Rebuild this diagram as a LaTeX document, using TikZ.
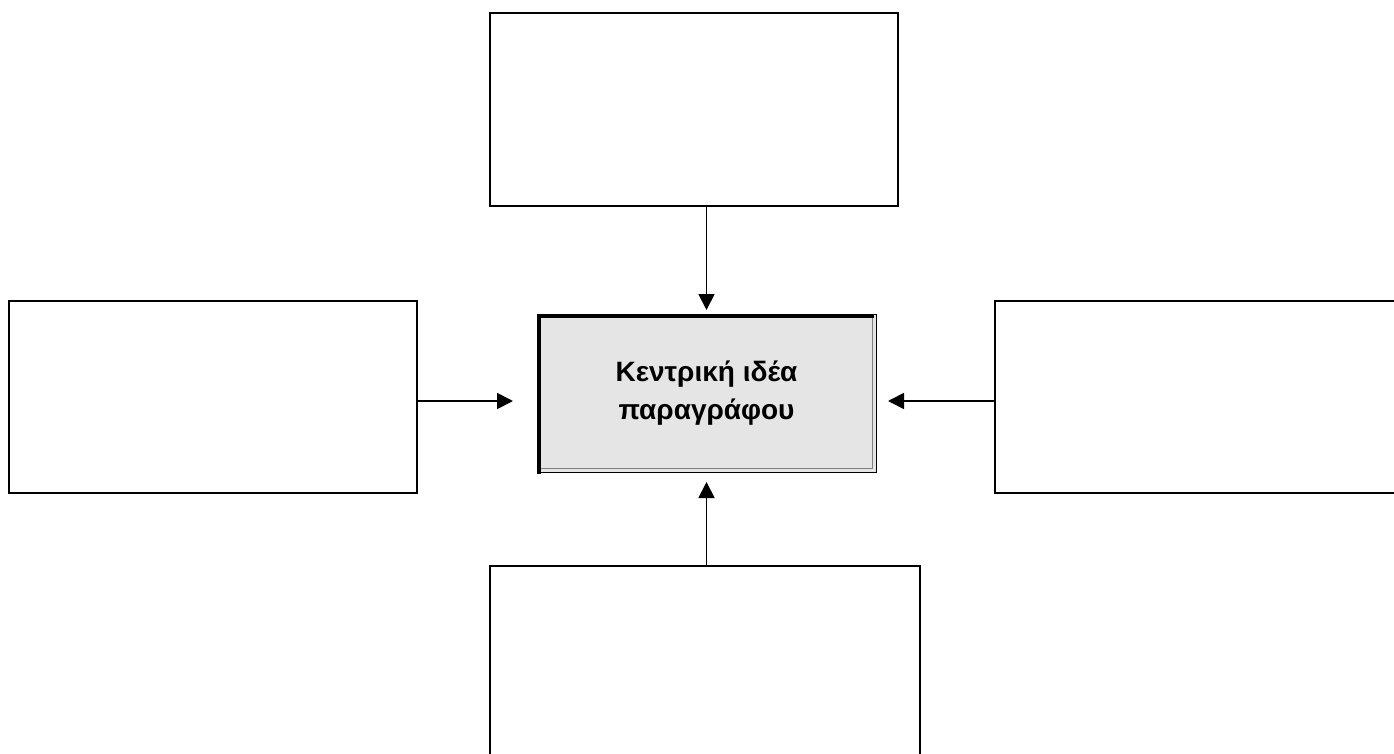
\documentclass[tikz,border=0pt]{standalone}
\usepackage{fontspec}
\setmainfont{Liberation Sans}
\usetikzlibrary{arrows.meta}
\tikzset{
  emptybox/.style={draw,line width=2.2pt,inner sep=0pt,outer sep=0pt,fill=white},
  ideabox/.style={draw,line width=0.9pt,fill=black!10,inner sep=0pt,outer sep=0pt,
    minimum width=339pt,minimum height=158pt,align=center,
    font=\fontsize{28}{38}\selectfont\bfseries},
  arr/.style={-{Triangle[length=16pt,width=16pt]},line width=1.8pt}
}
\begin{document}
\begin{tikzpicture}[x=1pt,y=-1pt]
  \clip (0,0) rectangle (1394,754);
  \fill[color=white] (0,0) rectangle (1394,754);
  % four empty boxes
  \node[emptybox,minimum width=408pt,minimum height=193pt,anchor=north west]
    (top) at (490,13) {};
  \node[emptybox,minimum width=408pt,minimum height=192pt,anchor=north west]
    (left) at (9,301) {};
  \node[emptybox,minimum width=420pt,minimum height=192pt,anchor=north west]
    (right) at (995,301) {};
  \node[emptybox,minimum width=430pt,minimum height=200pt,anchor=north west]
    (bottom) at (490,566) {};
  % central box
  \node[ideabox,anchor=north west] (idea) at (537,314)
    {Κεντρική ιδέα\\παραγράφου};
  \draw[line width=3.5pt] ([shift={(2pt,-2pt)}]idea.south west)
    |- ([shift={(-2pt,-2pt)}]idea.north east);
  \draw[color=gray,line width=1pt] ([shift={(4pt,4pt)}]idea.south west)
    -| ([shift={(-4pt,-4pt)}]idea.north east);
  % arrows to the centre
  \draw[arr,shorten >=4pt] (idea.north |- top.south) -- (idea.north);
  \draw[arr,shorten >=10pt] (idea.south |- bottom.north) -- (idea.south);
  \draw[arr,shorten >=24pt] ([yshift=-4pt]left.east) -- ([yshift=-4pt]left.east -| idea.west);
  \draw[arr,shorten >=12pt] ([yshift=-4pt]right.west) -- ([yshift=-4pt]right.west -| idea.east);
\end{tikzpicture}
\end{document}
